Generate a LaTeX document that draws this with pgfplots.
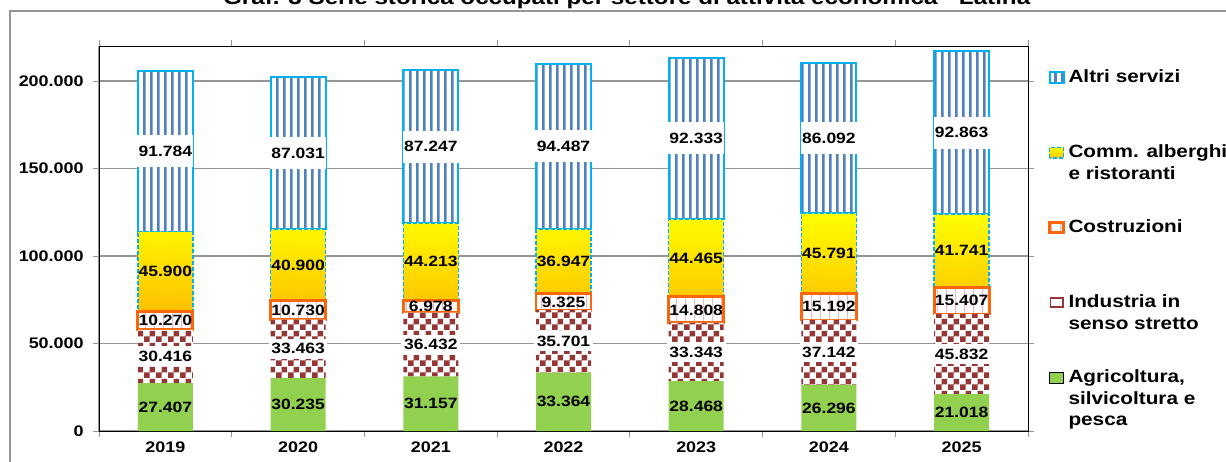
\documentclass[border=0pt]{standalone}
\usepackage{pgfplots}
\pgfplotsset{compat=1.18}
\usepackage{pgfplotstable}
\usepackage{fontspec}
\setmainfont{Liberation Sans}[FakeStretch=1.17]
\usetikzlibrary{patterns,patterns.meta}

\definecolor{agri}{RGB}{146,208,80}
\definecolor{indu}{RGB}{149,55,53}
\definecolor{cost}{RGB}{250,102,10}
\definecolor{costp}{RGB}{235,185,195}
\definecolor{commY}{RGB}{255,255,0}
\definecolor{commO}{RGB}{255,192,0}
\definecolor{skyb}{RGB}{0,176,240}
\definecolor{stripeb}{RGB}{79,129,189}
\definecolor{gridg}{RGB}{150,150,150}

\tikzdeclarepattern{
  name=vstripe, type=uncolored,
  bottom left={(0pt,0pt)}, top right={(5.1pt,1pt)}, tile size={(5.1pt,1pt)},
  code={\pgfpathrectangle{\pgfpointorigin}{\pgfpoint{2.1pt}{1pt}}\pgfusepath{fill}}
}
\tikzdeclarepattern{
  name=vthin, type=uncolored,
  bottom left={(0pt,0pt)}, top right={(6.8pt,1pt)}, tile size={(6.8pt,1pt)},
  code={\pgfpathrectangle{\pgfpointorigin}{\pgfpoint{0.9pt}{1pt}}\pgfusepath{fill}}
}
\tikzdeclarepattern{
  name=checker, type=uncolored,
  bottom left={(0pt,0pt)}, top right={(9pt,9pt)}, tile size={(9pt,9pt)},
  code={\pgfpathrectangle{\pgfpointorigin}{\pgfpoint{4.5pt}{4.5pt}}
        \pgfpathrectangle{\pgfpoint{4.5pt}{4.5pt}}{\pgfpoint{4.5pt}{4.5pt}}\pgfusepath{fill}}
}

\pgfplotstableread{
x y lab
0 27407 27.407
1 30235 30.235
2 31157 31.157
3 33364 33.364
4 28468 28.468
5 26296 26.296
6 21018 21.018
}\agri
\pgfplotstableread{
x y lab
0 30416 30.416
1 33463 33.463
2 36432 36.432
3 35701 35.701
4 33343 33.343
5 37142 37.142
6 45832 45.832
}\indu
\pgfplotstableread{
x y lab
0 10270 10.270
1 10730 10.730
2 6978 6.978
3 9325 9.325
4 14808 14.808
5 15192 15.192
6 15407 15.407
}\cost
\pgfplotstableread{
x y lab
0 45900 45.900
1 40900 40.900
2 44213 44.213
3 36947 36.947
4 44465 44.465
5 45791 45.791
6 41741 41.741
}\comm
\pgfplotstableread{
x y lab
0 91784 91.784
1 87031 87.031
2 87247 87.247
3 94487 94.487
4 92333 92.333
5 86092 86.092
6 92863 92.863
}\altri

\pgfplotsset{
  lbl/.style={
    nodes near coords=\pgfplotspointmeta,
    point meta=explicit symbolic,
    every node near coord/.style={anchor=center, text=black,
      font=\bfseries\fontsize{11.2}{13}\selectfont, inner sep=1pt, #1},
  },
  lbl/.default={},
}

\begin{document}
\begin{tikzpicture}
\useasboundingbox (0pt,0pt) rectangle (919.5pt,-345.75pt);
\node[font=\bfseries\fontsize{15.5}{18}\selectfont, anchor=base] at (470pt,-3pt)
  {Graf. 3 Serie storica occupati per settore di attività economica - Latina};
\draw[gridg, line width=0.9pt] (7.5pt,-350pt) -- (7.5pt,-8.25pt) -- (925pt,-8.25pt);
\begin{axis}[
  at={(74.25pt,-323.25pt)}, anchor=south west,
  scale only axis, width=696.75pt, height=288.75pt,
  ybar stacked, bar width=41.25pt,
  xmin=-0.5, xmax=6.5, ymin=0, ymax=220000,
  scaled y ticks=false,
  xtick={0,1,2,3,4,5,6},
  xticklabels={2019,2020,2021,2022,2023,2024,2025},
  xtick style={draw=none},
  extra x ticks={-0.5,0.5,1.5,2.5,3.5,4.5,5.5,6.5},
  extra x tick labels={},
  extra x tick style={xtick style={draw=gridg, line width=0.75pt}, tick align=outside, major tick length=4.5pt},
  ytick={0,50000,100000,150000,200000},
  yticklabels={0,50.000,100.000,150.000,200.000},
  ytick style={draw=gridg, line width=0.75pt},
  tick align=outside, major tick length=4.5pt,
  ymajorgrids, grid style={gridg, line width=0.9pt},
  axis line style={draw=none},
  tick label style={font=\bfseries\fontsize{11.5}{13}\selectfont},
  yticklabel style={xshift=-3.5pt},
  clip=false,
  legend style={at={(axis description cs:1.0215,0.9394)}, anchor=north west,
    draw=none, fill=none, inner sep=0pt, row sep=0pt, column sep=0pt,
    font=\bfseries\fontsize{13.3}{16}\selectfont,
    cells={anchor=base west},
    nodes={inner xsep=2.5pt, inner ysep=0pt, text height=10pt, text depth=46.25pt, anchor=base west}},
  reverse legend,
  legend image code/.code={\draw[#1] (0pt,0pt) rectangle (10.5pt,8pt);},
]
\addplot[fill=agri, draw=none, lbl] table[x=x, y=y, meta=lab] {\agri};
\addlegendentry{\begin{tabular}[t]{@{}l@{}}Agricoltura,\\silvicoltura e\\pesca\end{tabular}}
\addplot[draw=none, preaction={fill=white}, pattern=checker, pattern color=indu,
  lbl={fill=white, minimum width=44pt, minimum height=15pt},
  legend image code/.code={\draw[indu, line width=1.3pt, fill=white] (0.6pt,0.6pt) rectangle (10pt,7.6pt);}]
  table[x=x, y=y, meta=lab] {\indu};
\addlegendentry{\begin{tabular}[t]{@{}l@{}}Industria in\\senso stretto\end{tabular}}
\addplot[draw=cost, line width=2.2pt, preaction={fill=white}, pattern=vthin, pattern color=costp, lbl]
  table[x=x, y=y, meta=lab] {\cost};
\addlegendentry{Costruzioni}
\addplot[draw=skyb, line width=1.1pt, dash pattern=on 3pt off 1.5pt, top color=commY, bottom color=commO, lbl]
  table[x=x, y=y, meta=lab] {\comm};
\addlegendentry{\begin{tabular}[t]{@{}l@{}}Comm. alberghi\\e ristoranti\end{tabular}}
\addplot[draw=skyb, line width=1.5pt, preaction={fill=white}, pattern=vstripe, pattern color=stripeb,
  lbl={fill=white, minimum width=42pt, minimum height=24pt}]
  table[x=x, y=y, meta=lab] {\altri};
\addlegendentry{Altri servizi}
\draw[black, line width=0.75pt] (rel axis cs:0,0) rectangle (rel axis cs:1,1);
\draw[gridg, line width=0.9pt] (rel axis cs:0,1) -- (rel axis cs:0,0) -- (rel axis cs:1,0);
\end{axis}
\end{tikzpicture}
\end{document}
